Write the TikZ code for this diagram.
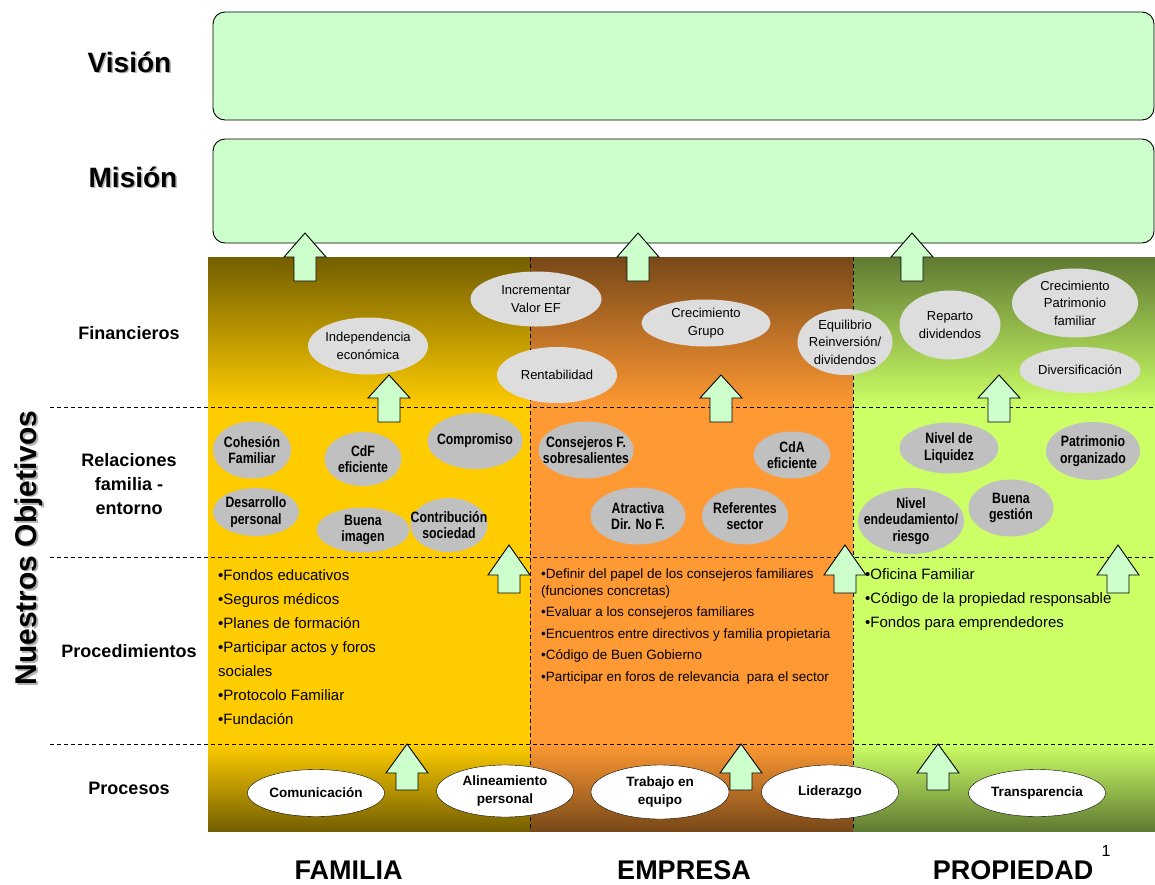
\documentclass[tikz,border=0pt]{standalone}
\usepackage{fontspec}
\setmainfont{Liberation Sans}
\newfontfamily\narrowsans[FakeStretch=0.82]{Liberation Sans}
\usetikzlibrary{shapes.geometric}

\definecolor{paleg}{HTML}{CCFFCC}
\definecolor{famcol}{HTML}{FFCC00}
\definecolor{famdark}{RGB}{115,94,0}
\definecolor{empcol}{HTML}{FF9933}
\definecolor{empdark}{RGB}{120,72,24}
\definecolor{procol}{HTML}{CCFF66}
\definecolor{prodark}{RGB}{95,122,50}
\definecolor{fingray}{RGB}{221,221,221}
\definecolor{relgray}{RGB}{192,192,192}

\tikzset{
  fin/.style={ellipse, fill=fingray, inner sep=-30pt, align=center,
    font=\fontsize{13}{17.5}\selectfont},
  rel/.style={ellipse, fill=relgray, inner sep=-30pt, align=center,
    font=\narrowsans\bfseries\fontsize{15}{16.7}\selectfont},
  proc/.style={ellipse, draw, fill=white, inner sep=-30pt, align=center,
    font=\bfseries\fontsize{13.5}{17.5}\selectfont},
  rowlabel/.style={align=center, font=\bfseries\fontsize{18}{24}\selectfont},
  biglabel/.style={font=\bfseries\fontsize{28}{30}\selectfont},
  collabel/.style={font=\bfseries\fontsize{27}{30}\selectfont},
  sepline/.style={dash pattern=on 4pt off 3pt, line width=0.9pt},
  pics/uparr/.style args={#1/#2}{code={
    \draw[fill=paleg, line width=0.9pt] (0,0) -- (21,#1) -- (11,#1) -- (11,#2)
      -- (-11,#2) -- (-11,#1) -- (-21,#1) -- cycle;
  }}
}

\begin{document}
\begin{tikzpicture}[x=1pt, y=-1pt]
\useasboundingbox (0,0) rectangle (1155,884);

% Vision / Mision
\draw[fill=paleg, line width=0.9pt, rounded corners=12pt] (213,12) rectangle (1154,120);
\draw[fill=paleg, line width=0.9pt, rounded corners=12pt] (213,139) rectangle (1154,243);
\node[biglabel, text=gray!60] (visshadow) at (131,63.5) {Visión};
\node[biglabel] (vis) at (129.5,62) {Visión};
\node[biglabel, text=gray!60] (misshadow) at (134.5,178.5) {Misión};
\node[biglabel] (mis) at (133,177) {Misión};

% columns
\shade[top color=famdark, bottom color=famcol] (208,257) rectangle (530,407);
\shade[top color=empdark, bottom color=empcol] (530,257) rectangle (853,407);
\shade[top color=prodark, bottom color=procol] (853,257) rectangle (1155,407);
\fill[famcol] (208,407) rectangle (530,744);
\fill[empcol] (530,407) rectangle (853,744);
\fill[procol] (853,407) rectangle (1155,744);
\shade[top color=famcol, bottom color=famdark] (208,744) rectangle (530,831);
\shade[top color=empcol, bottom color=empdark] (530,744) rectangle (853,831);
\shade[top color=procol, bottom color=prodark] (853,744) rectangle (1155,831);

\draw[sepline] (50,407) -- (1155,407);
\draw[sepline] (50,557) -- (1155,557);
\draw[sepline] (50,744) -- (1155,744);
\draw[sepline] (530,257) -- (530,831);
\draw[sepline] (853,257) -- (853,831);

% row labels
\node[rotate=90, font=\bfseries\fontsize{30}{32}\selectfont, text=gray!60] (objshadow) at (30.5,549.5) {Nuestros Objetivos};
\node[rotate=90, font=\bfseries\fontsize{30}{32}\selectfont] (obj) at (29,548) {Nuestros Objetivos};
\node[rowlabel] (lfin) at (129,333) {Financieros};
\node[rowlabel] (lrel) at (129,484) {Relaciones\\familia -\\entorno};
\node[rowlabel] (lproced) at (129,651) {Procedimientos};
\node[rowlabel] (lproces) at (129,788) {Procesos};

% financieros
\node[fin, minimum width=120, minimum height=57] (indep) at (368,346) {Independencia\\económica};
\node[fin, minimum width=131, minimum height=55] (incval) at (536,299) {Incrementar\\Valor EF};
\node[fin, minimum width=120, minimum height=56] (rentab) at (557,375) {Rentabilidad};
\node[fin, minimum width=129, minimum height=47] (crecgr) at (706,323) {Crecimiento\\Grupo};
\node[fin, minimum width=95, minimum height=66] (equil) at (845,342) {Equilibrio\\Reinversión/\\dividendos};
\node[fin, minimum width=101, minimum height=69] (reparto) at (950,325) {Reparto\\dividendos};
\node[fin, minimum width=126, minimum height=69] (crecpat) at (1075,303) {Crecimiento\\Patrimonio\\familiar};
\node[fin, minimum width=121, minimum height=46] (divers) at (1080,370) {Diversificación};

% relaciones familia - entorno
\node[rel, minimum width=78, minimum height=57] (cohes) at (252,450) {Cohesión\\Familiar};
\node[rel, minimum width=77, minimum height=54] (cdf) at (363,459) {CdF\\eficiente};
\node[rel, minimum width=95, minimum height=56] (compr) at (475,441) {Compromiso};
\node[rel, minimum width=86, minimum height=48] (desarr) at (256,512) {Desarrollo\\personal};
\node[rel, minimum width=93, minimum height=45] (buenaim) at (363,530) {Buena\\imagen};
\node[rel, minimum width=77, minimum height=54] (contrib) at (449,525) {Contribución\\sociedad};
\node[rel, minimum width=95, minimum height=57] (consej) at (586,450) {Consejeros F.\\sobresalientes};
\node[rel, minimum width=77, minimum height=47] (cda) at (792,455) {CdA\\eficiente};
\node[rel, minimum width=95, minimum height=57] (atract) at (638,516) {Atractiva\\Dir. No F.};
\node[rel, minimum width=86, minimum height=57] (refer) at (745,516) {Referentes\\sector};
\node[rel, minimum width=99, minimum height=51] (liquid) at (949,448) {Nivel de\\Liquidez};
\node[rel, minimum width=94, minimum height=58] (patrim) at (1093,451) {Patrimonio\\organizado};
\node[rel, minimum width=106, minimum height=66] (endeud) at (911,521) {Nivel\\endeudamiento/\\riesgo};
\node[rel, minimum width=85, minimum height=57] (gestion) at (1011,508) {Buena\\gestión};

% procedimientos
\node[anchor=north west, inner sep=0pt, align=left, font=\fontsize{15}{24}\selectfont] (famproc) at (218,569)
  {•Fondos educativos\\•Seguros médicos\\•Planes de formación\\•Participar actos y foros\\sociales\\•Protocolo Familiar\\•Fundación};
\node[anchor=north west, inner sep=0pt, align=left, font=\fontsize{13.5}{16.5}\selectfont] (empproc) at (541,569)
  {•Definir del papel de los consejeros familiares\\(funciones concretas)\\[5pt]•Evaluar a los consejeros familiares\\[5pt]%
   •Encuentros entre directivos y familia propietaria\\[5pt]•Código de Buen Gobierno\\[5pt]•Participar en foros de relevancia\ \ para el sector};
\node[anchor=north west, inner sep=0pt, align=left, font=\fontsize{15}{24}\selectfont] (proproc) at (865,568)
  {•Oficina Familiar\\•Código de la propiedad responsable\\•Fondos para emprendedores};

% procesos
\node[proc, minimum width=137, minimum height=47] (comun) at (316,793) {Comunicación};
\node[proc, minimum width=137, minimum height=52] (alin) at (505,791) {Alineamiento\\personal};
\node[proc, minimum width=138, minimum height=54] (trabajo) at (660,792) {Trabajo en\\equipo};
\node[proc, minimum width=137, minimum height=54] (lider) at (830,792) {Liderazgo};
\node[proc, minimum width=137, minimum height=47] (transp) at (1037,793) {Transparencia};

% arrows
\pic at (305,233) {uparr=24/48};
\pic at (638,233) {uparr=24/48};
\pic at (912,233) {uparr=24/48};
\pic at (389,375) {uparr=23/47};
\pic at (721,375) {uparr=23/47};
\pic at (999,375) {uparr=23/47};
\pic at (509,545) {uparr=30/48};
\pic at (845,545) {uparr=30/48};
\pic at (1118,545) {uparr=30/48};
\pic at (407,744) {uparr=29/46};
\pic at (741,744) {uparr=29/46};
\pic at (938,744) {uparr=29/46};

% columns
\node[collabel] (lfam) at (348.5,870) {FAMILIA};
\node[collabel] (lemp) at (684,870) {EMPRESA};
\node[collabel] (lprop) at (1013,870) {PROPIEDAD};
\node[font=\fontsize{16}{18}\selectfont] (pagenum) at (1106,851) {1};
\end{tikzpicture}
\end{document}
